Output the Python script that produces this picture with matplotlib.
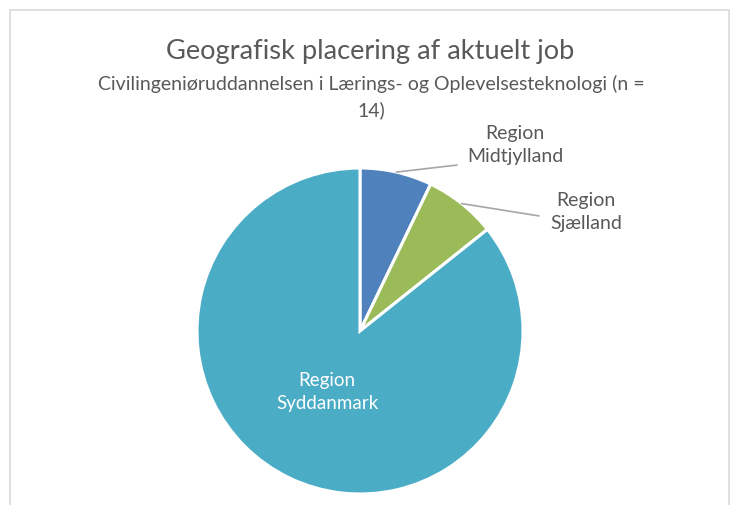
import numpy as np
import matplotlib
matplotlib.use("Agg")
import matplotlib.pyplot as plt
from matplotlib.patches import Rectangle

categories = ["Region\nMidtjylland", "Region\nSjælland", "Region\nSyddanmark"]
values = [1, 1, 12]
colors = ["#4F81BD", "#9BBB59", "#4BACC6"]
title = "Geografisk placering af aktuelt job"
subtitle = "Civilingeniøruddannelsen i Lærings- og Oplevelsesteknologi (n =\n14)"

plt.rcParams['font.family'] = ['Lato', 'DejaVu Sans']
W, H = 732, 506
fig = plt.figure(figsize=(W / 100, H / 100), dpi=100)

def fx(px):
    return px / W

def fy(py):
    return 1 - py / H

# chart frame
fig.add_artist(Rectangle((fx(10), -0.1), fx(719), fy(11) + 0.1, transform=fig.transFigure,
                         fill=False, edgecolor="#d9d9d9", lw=1.2))

fig.text(fx(370), fy(52), title, ha="center", va="center", fontsize=19.6, color="#595959")
fig.text(fx(371), fy(97), subtitle, ha="center", va="center", fontsize=14, color="#595959",
         linespacing=1.6)

cx, cy, r = 360, 332, 163
ax = fig.add_axes([fx(cx - r), 1 - (cy + r) / H, 2 * r / W, 2 * r / H])
wedges, _ = ax.pie(values, colors=colors, startangle=90, counterclock=False,
                   wedgeprops=dict(edgecolor="white", linewidth=2.2))
ax.set_xlim(-1, 1)
ax.set_ylim(-1, 1)
ax.set_aspect("equal")
ax.axis("off")

label_pos = [(0.951, 1.147), (1.387, 0.736), (-0.202, -0.368)]
line_end = [(0.595, 1.018), (1.098, 0.706), None]
label_colors = ["#595959", "#595959", "white"]
label_sizes = [14, 14, 13.5]
for w, lab, pos, end, col, fs in zip(wedges, categories, label_pos, line_end, label_colors, label_sizes):
    ang = np.deg2rad((w.theta1 + w.theta2) / 2)
    edge = (np.cos(ang), np.sin(ang))
    if end is not None:
        ax.annotate("", xy=edge, xytext=end, annotation_clip=False,
                    arrowprops=dict(arrowstyle="-", color="#a6a6a6", lw=1.2,
                                    shrinkA=0, shrinkB=0))
    ax.text(pos[0], pos[1], lab, ha="center", va="center", fontsize=fs, color=col,
            linespacing=1.4, clip_on=False)

fig.savefig("out.png", dpi=100)
